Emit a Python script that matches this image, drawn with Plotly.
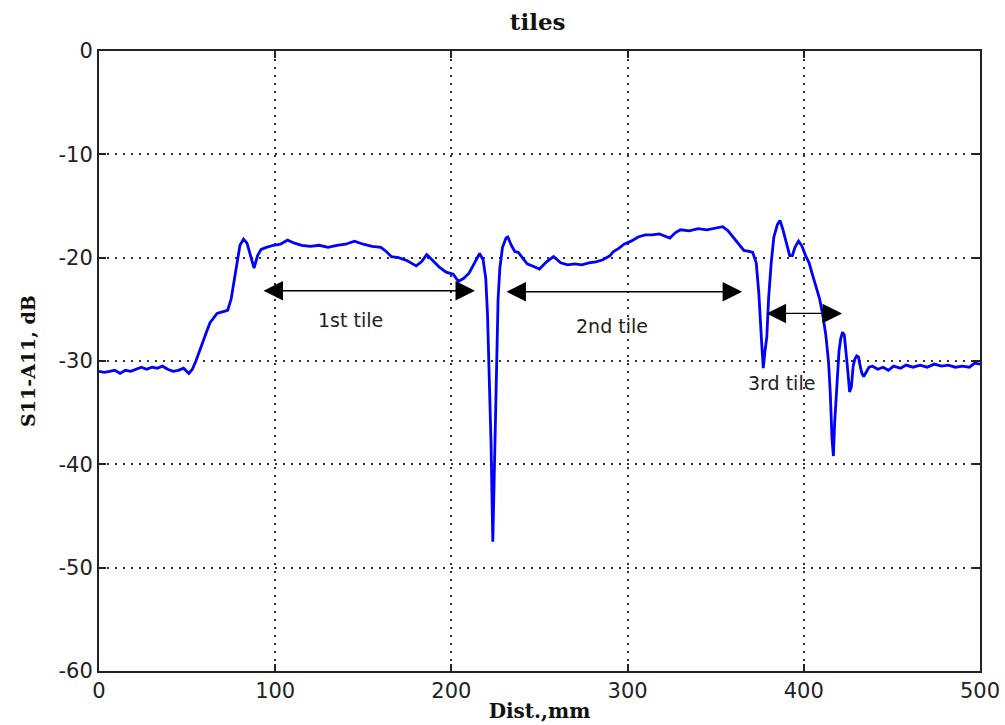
import plotly.graph_objects as go

dist_mm = [0, 3, 6, 9, 12, 15, 18, 21, 24, 27, 30, 33, 36, 39, 42, 45, 48, 51, 53, 55, 57, 59, 61, 63, 65, 67, 69, 71, 73, 75, 77, 79, 80, 82, 84, 86, 88, 90, 92, 95, 99, 103, 107, 111, 115, 120, 125, 130, 135, 140, 145, 150, 155, 160, 163, 166, 170, 175, 180, 183, 186, 189, 193, 197, 201, 204, 207, 210, 213, 216, 218, 219.5, 220.5, 221.5, 222.5, 223.5, 224.5, 225.5, 226.5, 227.5, 229, 231, 232, 234, 236, 238, 240, 243, 246, 250, 254, 258, 262, 266, 270, 274, 278, 282, 286, 290, 292, 295, 298, 302, 306, 310, 314, 318, 321, 324, 327, 330, 335, 340, 345, 350, 354, 357, 360, 363, 366, 369, 371, 373, 374.5, 376, 377, 378, 379, 380, 381.5, 383, 385, 386.5, 388, 390, 392, 393.5, 395, 397, 399, 401, 403, 405, 407, 409, 411, 412.5, 414, 415, 416, 416.8, 417.5, 418.5, 420, 421, 422, 423, 424, 425, 426, 427, 428, 429, 430, 431, 432, 433, 434, 435, 437, 439, 442, 445, 448, 451, 455, 458, 462, 466, 470, 474, 478, 482, 486, 490, 494, 497, 500]

s11_db = [-31.0, -31.1, -31.0, -30.9, -31.2, -30.9, -31.0, -30.8, -30.6, -30.8, -30.6, -30.7, -30.5, -30.8, -31.0, -30.9, -30.7, -31.2, -30.8, -30.0, -29.0, -28.2, -27.2, -26.3, -25.8, -25.4, -25.3, -25.2, -25.1, -24.0, -22.0, -19.6, -18.8, -18.2, -18.6, -19.8, -21.0, -19.8, -19.2, -19.0, -18.8, -18.7, -18.3, -18.6, -18.8, -18.9, -18.8, -19.0, -18.8, -18.7, -18.4, -18.7, -18.9, -19.0, -19.4, -19.9, -20.0, -20.3, -20.8, -20.4, -19.7, -20.2, -20.9, -21.4, -21.6, -22.3, -22.0, -21.5, -20.6, -19.6, -20.2, -22.0, -25.5, -31.0, -38.0, -47.5, -40.0, -30.0, -24.0, -21.0, -19.0, -18.1, -18.0, -18.8, -19.4, -19.5, -19.9, -20.6, -20.8, -21.1, -20.4, -19.9, -20.5, -20.7, -20.6, -20.7, -20.5, -20.4, -20.2, -19.8, -19.4, -19.1, -18.7, -18.4, -18.0, -17.8, -17.8, -17.7, -17.9, -18.1, -17.6, -17.3, -17.4, -17.2, -17.3, -17.1, -17.0, -17.4, -18.0, -18.6, -19.3, -19.4, -19.5, -20.5, -23.5, -28.0, -30.7, -29.0, -27.7, -24.0, -20.5, -18.0, -16.8, -16.4, -17.2, -18.5, -19.8, -19.8, -19.0, -18.4, -18.9, -19.8, -20.5, -21.7, -22.8, -24.0, -25.8, -27.5, -30.0, -33.0, -37.5, -39.2, -36.0, -33.0, -29.0, -27.8, -27.2, -27.5, -29.0, -31.0, -33.0, -32.5, -30.5, -29.8, -29.5, -29.6, -30.5, -31.2, -31.5, -31.2, -30.6, -30.5, -30.8, -30.6, -30.9, -30.5, -30.7, -30.4, -30.6, -30.4, -30.6, -30.3, -30.5, -30.4, -30.6, -30.5, -30.6, -30.2, -30.3]

tile_labels = ["1st tile", "2nd tile", "3rd tile"]
tile_start = [92.5, 230.4, 378.0]
tile_end = [213.4, 365.0, 421.7]
tile_arrow_y = [-23.2, -23.3, -25.4]
label_x = [142.5, 291.0, 387.6]
label_y = [-26.0, -26.6, -32.1]

x_ticks = [0, 100, 200, 300, 400, 500]
y_ticks = [0, -10, -20, -30, -40, -50, -60]

fig = go.Figure()
fig.add_trace(go.Scatter(x=dist_mm, y=s11_db, mode="lines",
                         line=dict(color="#0000ff", width=2.8), showlegend=False))

ann = []
for i in range(3):
    ann.append(dict(x=tile_end[i], y=tile_arrow_y[i], ax=tile_start[i], ay=tile_arrow_y[i],
                    xref="x", yref="y", axref="x", ayref="y", text="",
                    showarrow=True, arrowside="end+start", arrowhead=2,
                    startarrowhead=2, arrowsize=3.0, startarrowsize=3.0,
                    arrowwidth=1.3, arrowcolor="black"))
    ann.append(dict(x=label_x[i], y=label_y[i], xref="x", yref="y", text=tile_labels[i],
                    showarrow=False, font=dict(family="DejaVu Sans", size=19, color="#222")))

axis_common = dict(showline=True, linecolor="#222", linewidth=2, mirror="allticks",
                   ticks="inside", ticklen=7, tickcolor="#222", tickwidth=1.5,
                   showgrid=True, gridcolor="#333", griddash="2px,6px", gridwidth=1.5,
                   zeroline=False, automargin=False,
                   tickfont=dict(family="DejaVu Sans", size=21, color="#222"))

fig.update_layout(
    width=1005, height=725,
    margin=dict(l=99, r=25, t=51, b=54),
    paper_bgcolor="white", plot_bgcolor="white",
    title=dict(text="<b>tiles</b>", x=0.535, xanchor="center", y=0.97, yanchor="middle",
               font=dict(family="DejaVu Serif", size=23, color="#111")),
    xaxis=dict(range=[0, 500], tickvals=x_ticks, ticktext=[str(v) for v in x_ticks],
               title=dict(text="<b>Dist.,mm</b>", standoff=2,
                          font=dict(family="DejaVu Serif", size=20, color="#111")),
               **axis_common),
    yaxis=dict(range=[-60, 0], tickvals=y_ticks, ticktext=[str(v) for v in y_ticks],
               title=dict(text="<b>S11-A11, dB</b>", standoff=18,
                          font=dict(family="DejaVu Serif", size=19, color="#111")),
               **axis_common),
    annotations=ann,
)

fig.write_html("out.html", config={"displayModeBar": False},
               post_script="document.body.style.margin='0px';")
